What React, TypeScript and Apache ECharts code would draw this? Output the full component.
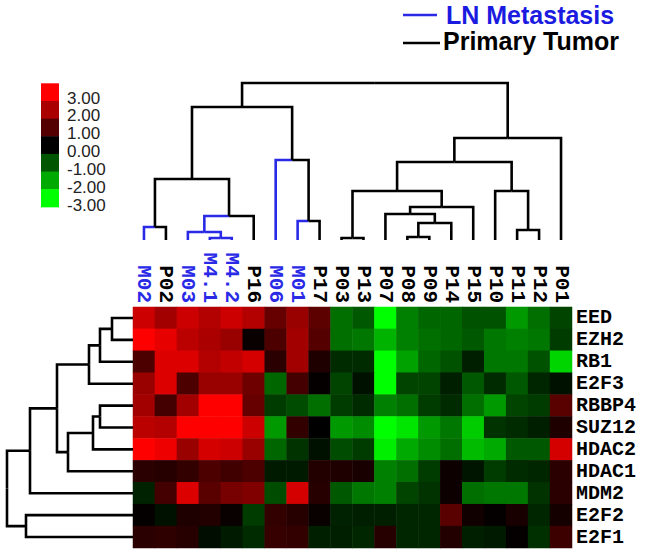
import React, { useEffect, useRef } from "react";
import * as echarts from "echarts";

// Samples (columns) in dendrogram order
const colLabels = ["M02", "P02", "M03", "M4.1", "M4.2", "P16", "M06", "M01", "P17", "P03", "P13", "P07", "P08", "P09", "P14", "P15", "P10", "P11", "P12", "P01"];
// Genes (rows) in dendrogram order
const rowLabels = ["EED", "EZH2", "RB1", "E2F3", "RBBP4", "SUZ12", "HDAC2", "HDAC1", "MDM2", "E2F2", "E2F1"];

// Expression values (log ratio), one array per gene, in column order
const EED = [2.4, 1.9, 2.4, 2.1, 2.4, 2.1, 1.2, 1.8, 1.1, -1.3, -1.05, -3, -1.5, -1.2, -1.2, -0.95, -0.95, -1.8, -1.3, -0.8];
const EZH2 = [3, 2.7, 2.2, 2.0, 1.8, 0.1, 0.9, 1.9, 1.0, -1.3, -1.4, -2.1, -1.5, -1.3, -1.2, -1.05, -1.4, -1.5, -1.4, -0.7];
const RB1 = [0.9, 2.6, 2.6, 2.1, 2.3, 2.5, 0.5, 1.9, 0.35, -0.5, -0.5, -3, -1.9, -1.2, -0.95, -0.35, -1.4, -1.4, -0.95, -2.5];
const E2F3 = [1.8, 2.6, 0.9, 1.8, 1.8, 1.3, -1.2, 0.8, 0.05, -0.8, -0.2, -3, -0.8, -0.8, -0.35, -1.05, -0.5, -1.05, -0.45, -0.2];
const RBBP4 = [1.9, 0.8, 1.9, 3, 3, 1.2, -0.7, -0.9, -1.3, -0.7, -0.5, -1.5, -1.3, -0.7, -0.5, -1.3, -1.8, -0.8, -0.7, 1.05];
const SUZ12 = [2.2, 2.1, 3, 3, 3, 2.4, -1.8, 0.6, 0, -1.8, -1.65, -3, -2.7, -1.8, -1.4, -2.4, -0.6, -0.5, -0.35, 0.35];
const HDAC2 = [3, 2.8, 1.8, 2.5, 2.4, 1.8, -1.2, -0.6, -0.2, -0.9, -0.7, -2.8, -2.0, -1.65, -1.3, -2.2, -2.0, -1.05, -1.05, 2.5];
const HDAC1 = [0.5, 0.45, 0.6, 0.9, 0.75, 0.9, -0.3, -0.3, 0.4, 0.35, 0.3, -1.5, -1.3, -0.7, 0.15, -0.25, -0.7, -0.5, -0.45, 0.5];
const MDM2 = [-0.4, 0.8, 2.6, 1.05, 1.4, 1.5, -0.9, 2.5, 0.45, -1.05, -1.4, -1.5, -0.8, -0.6, 0.15, -1.3, -1.4, -1.4, -0.6, 0.5];
const E2F2 = [0.05, -0.2, 0.35, 0.4, 0.1, -0.7, 0.6, 0.45, 0.1, -0.4, -0.35, -0.35, -0.45, -0.45, 1.05, 0.2, 0.05, 0.3, -0.45, 0.25];
const E2F1 = [0.5, 0.55, 0.45, -0.15, -0.3, -0.5, 0.65, 0.6, -0.35, -0.35, -0.45, 0.45, -0.45, -0.45, 0.4, -0.35, -0.3, 0.05, -0.55, 0.7];
const expression = [EED, EZH2, RB1, E2F3, RBBP4, SUZ12, HDAC2, HDAC1, MDM2, E2F2, E2F1];

// Column clustering: [left, right, height]; ids >= 20 refer to earlier merges
const colMerges: [number, number, number][] = [
  [0, 1, 13], [3, 4, 2], [2, 21, 8], [22, 5, 24], [20, 23, 61],
  [7, 8, 19], [6, 25, 80], [24, 26, 133],
  [9, 10, 2], [12, 13, 3], [29, 14, 17], [11, 30, 26], [31, 15, 33], [28, 32, 49],
  [17, 18, 10], [16, 34, 49], [33, 35, 78], [36, 19, 102], [27, 37, 157],
];
// Row clustering: [top, bottom, height]; ids >= 11 refer to earlier merges
const rowMerges: [number, number, number][] = [
  [0, 1, 21], [11, 2, 33], [12, 3, 44], [4, 5, 33], [14, 6, 40], [15, 7, 65],
  [13, 16, 76], [17, 8, 103], [9, 10, 107], [18, 19, 126],
];

// Colour key
const keyValues = [3, 2, 1, 0, -1, -2, -3];
const keyLabels = ["3.00", "2.00", "1.00", "0.00", "-1.00", "-2.00", "-3.00"];

const groupNames = ["LN Metastasis", "Primary Tumor"];

const BLUE = "#2a2ae6";
const MONO = "'Liberation Mono', 'Courier New', monospace";
const SANS = "'Liberation Sans', Arial, sans-serif";

function colorFor(v: number) {
  const t = Math.max(-1, Math.min(1, v / 3));
  const c = Math.round(Math.abs(t) * 255);
  return t >= 0 ? `rgb(${c},0,0)` : `rgb(0,${c},0)`;
}

function layoutTree(n: number, merges: [number, number, number][], flags?: boolean[]) {
  const pos: number[] = [];
  const h: number[] = [];
  const all: boolean[] = [];
  for (let i = 0; i < n; i++) {
    pos[i] = i;
    h[i] = 0;
    all[i] = flags ? flags[i] : false;
  }
  merges.forEach(([a, b, ht], k) => {
    pos[n + k] = (pos[a] + pos[b]) / 2;
    h[n + k] = ht;
    all[n + k] = all[a] && all[b];
  });
  return { pos, h, all };
}

export default function App() {
  const ref = useRef<HTMLDivElement>(null);

  useEffect(() => {
    if (!ref.current) return;
    const chart = echarts.init(ref.current, undefined, { renderer: "svg" });

    const isMet = colLabels.map((l) => l.startsWith("M"));

    const heatData: number[][] = [];
    expression.forEach((row, r) => row.forEach((v, c) => heatData.push([c, r, v])));

    // column dendrogram segments
    const ct = layoutTree(colLabels.length, colMerges, isMet);
    const colSegs: any[] = [];
    colMerges.forEach(([a, b, ht], k) => {
      const node = colLabels.length + k;
      [a, b].forEach((ch) => {
        colSegs.push({
          coords: [[ct.pos[ch], ct.h[ch]], [ct.pos[ch], ht], [ct.pos[node], ht]],
          lineStyle: { color: ct.all[ch] ? BLUE : "#000" },
        });
      });
    });

    // row dendrogram segments
    const rt = layoutTree(rowLabels.length, rowMerges);
    const rowSegs: any[] = [];
    rowMerges.forEach(([a, b, ht], k) => {
      const node = rowLabels.length + k;
      [a, b].forEach((ch) => {
        rowSegs.push({
          coords: [[rt.h[ch], rt.pos[ch]], [ht, rt.pos[ch]], [ht, rt.pos[node]]],
        });
      });
    });

    const graphics: any[] = [];
    const keyTop = 83.3;
    const keyH = 17.65;
    keyValues.forEach((v, i) => {
      graphics.push({
        type: "rect",
        shape: { x: 41, y: keyTop + i * keyH, width: 18, height: keyH + 0.5 },
        style: { fill: colorFor(v) },
      });
      graphics.push({
        type: "text",
        x: 67,
        y: 98 + i * 17.9,
        style: {
          text: keyLabels[i],
          font: `17px ${SANS}`,
          fill: "#222",
          verticalAlign: "middle",
        },
      });
    });
    // group legend
    [BLUE, "#000"].forEach((col, i) => {
      const y = i === 0 ? 15 : 43;
      graphics.push({
        type: "line",
        shape: { x1: 403, y1: y, x2: i === 0 ? 437 : 440, y2: y },
        style: { stroke: col, lineWidth: 2.6 },
      });
      graphics.push({
        type: "text",
        x: i === 0 ? 446 : 443,
        y: i === 0 ? 15 : 41,
        style: {
          text: groupNames[i],
          font: `bold 25px ${SANS}`,
          fill: i === 0 ? "#1a1ae0" : "#000",
          verticalAlign: "middle",
        },
      });
    });

    const option: any = {
      animation: false,
      backgroundColor: "#fff",
      grid: [
        { left: 133, top: 307, width: 439, height: 241 },
        { left: 133, top: 80, width: 439, height: 160 },
        { left: 0, top: 307, width: 133, height: 241 },
      ],
      xAxis: [
        {
          gridIndex: 0,
          type: "category",
          data: colLabels,
          position: "top",
          axisLine: { show: false },
          axisTick: { show: false },
          splitLine: { show: false },
          axisLabel: {
            rotate: 90,
            margin: 4,
            interval: 0,
            fontFamily: MONO,
            fontWeight: "bold",
            fontSize: 21,
            lineHeight: 19,
            color: (val: string) => (val.startsWith("M") ? BLUE : "#000"),
          },
        },
        { gridIndex: 1, type: "value", min: -0.5, max: 19.5, show: false },
        { gridIndex: 2, type: "value", min: 0, max: 133, inverse: true, show: false },
      ],
      yAxis: [
        {
          gridIndex: 0,
          type: "category",
          data: rowLabels,
          inverse: true,
          position: "right",
          axisLine: { show: false },
          axisTick: { show: false },
          splitLine: { show: false },
          axisLabel: {
            margin: 4,
            interval: 0,
            fontFamily: MONO,
            fontWeight: "bold",
            fontSize: 20,
            lineHeight: 18,
            color: "#000",
          },
        },
        { gridIndex: 1, type: "value", min: 0, max: 160, show: false },
        { gridIndex: 2, type: "value", min: -0.5, max: 10.5, inverse: true, show: false },
      ],
      visualMap: {
        show: false,
        type: "continuous",
        min: -3,
        max: 3,
        dimension: 2,
        seriesIndex: 0,
        inRange: { color: ["#00ff00", "#000000", "#ff0000"] },
      },
      series: [
        {
          type: "heatmap",
          xAxisIndex: 0,
          yAxisIndex: 0,
          data: heatData,
          itemStyle: { borderWidth: 0 },
          emphasis: { disabled: true },
        },
        {
          type: "lines",
          coordinateSystem: "cartesian2d",
          xAxisIndex: 1,
          yAxisIndex: 1,
          polyline: true,
          silent: true,
          lineStyle: { width: 2.6, opacity: 1, color: "#000", join: "miter" },
          data: colSegs,
        },
        {
          type: "lines",
          coordinateSystem: "cartesian2d",
          xAxisIndex: 2,
          yAxisIndex: 2,
          polyline: true,
          silent: true,
          lineStyle: { width: 2.6, opacity: 1, color: "#000", join: "miter" },
          data: rowSegs,
        },
      ],
      graphic: graphics,
    };
    chart.setOption(option);
    return () => chart.dispose();
  }, []);

  return (
    <div
      ref={ref}
      style={{ position: "absolute", left: 0, top: 0, width: 654, height: 558, background: "#fff" }}
    />
  );
}
